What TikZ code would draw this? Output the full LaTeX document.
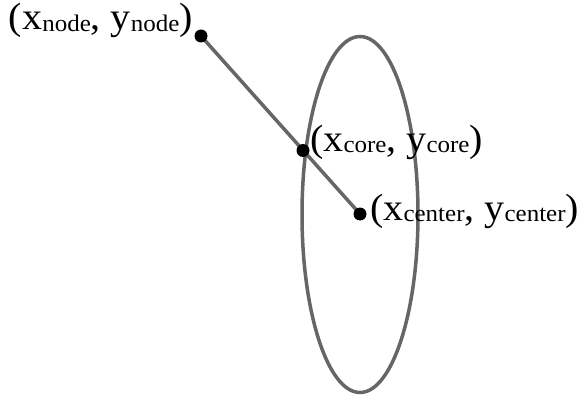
\documentclass[tikz,border=0pt]{standalone}
\usepackage{fontspec}
\setmainfont{Liberation Serif}
\newcommand{\lbl}[2]{\scalebox{1}[0.95]{\fontsize{40}{40}\selectfont (x\raisebox{-1.5pt}{\fontsize{25}{25}\selectfont #1}, y\raisebox{-1.5pt}{\fontsize{25}{25}\selectfont #2})}}
\begin{document}
\begin{tikzpicture}[x=1pt,y=-1pt,
  dotnode/.style={circle,fill=black,inner sep=0pt,minimum size=13pt},
  lbl/.style={inner sep=0pt},
  edge/.style={draw=black!60,line width=3.5pt}]
\useasboundingbox (0,0) rectangle (582,396);
\draw[edge] (360,214.5) ellipse [x radius=58, y radius=178];
\coordinate (n) at (201,36);
\coordinate (c) at (360,214);
\draw[edge] (n) -- (c);
\node[dotnode] (nd) at (n) {};
\node[dotnode] (cd) at (c) {};
\node[dotnode] (kd) at (303,150.5) {};
\node[lbl,anchor=base east] (nl) at (193,30) {\lbl{node}{node}};
\node[lbl,anchor=base west] (kl) at (310,151.5) {\lbl{core}{core}};
\node[lbl,anchor=base west] (cl) at (370,220) {\lbl{center}{center}};
\end{tikzpicture}
\end{document}
